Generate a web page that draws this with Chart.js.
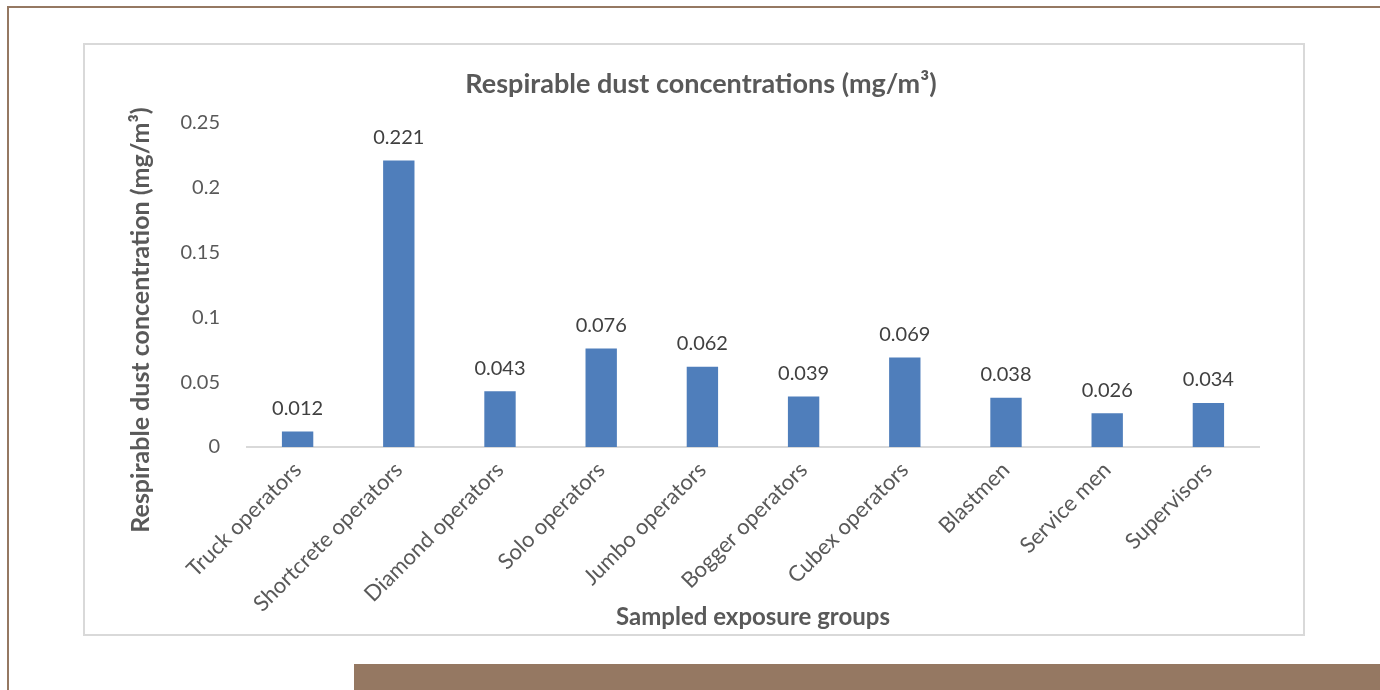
<!DOCTYPE html>
<html>
<head>
<meta charset="utf-8">
<script src="https://cdn.jsdelivr.net/npm/chart.js@4.4.1/dist/chart.umd.min.js"></script>
<style>
  html, body { margin: 0; padding: 0; background: #ffffff; }
  body { width: 1380px; height: 690px; position: relative; overflow: hidden; }
  .rule-top { position: absolute; left: 7px; top: 6px; right: 0; height: 2px; background: #957862; }
  .rule-left { position: absolute; left: 7px; top: 6px; bottom: 0; width: 2px; background: #957862; }
  .frame { position: absolute; left: 83px; top: 43px; width: 1222px; height: 593px;
           box-sizing: border-box; border: 2px solid #d9d9d9; background: #ffffff; }
  .band { position: absolute; left: 354px; top: 664px; right: 0; bottom: 0; background: #957862; }
  #wrap { position: absolute; left: 0; top: 0; width: 1380px; height: 690px; }
</style>
</head>
<body>
<div class="rule-top"></div>
<div class="rule-left"></div>
<div class="frame"></div>
<div class="band"></div>
<div id="wrap"><canvas id="chart"></canvas></div>
<script>
// Sampled exposure groups and their mean respirable dust concentration (mg/m³)
const groups = [
  'Truck operators', 'Shortcrete operators', 'Diamond operators', 'Solo operators',
  'Jumbo operators', 'Bogger operators', 'Cubex operators', 'Blastmen',
  'Service men', 'Supervisors'
];
const concentrations = [0.012, 0.221, 0.043, 0.076, 0.062, 0.039, 0.069, 0.038, 0.026, 0.034];
const yTickLabels = ['0', '0.05', '0.1', '0.15', '0.2', '0.25'];

const chartTitle = 'Respirable dust concentrations (mg/m³)';
const yAxisTitle = 'Respirable dust concentration (mg/m³)';
const xAxisTitle = 'Sampled exposure groups';

const FONT = 'Lato, "Open Sans", sans-serif';

// Titles and value labels painted on top of the bars
const annotate = {
  id: 'annotate',
  afterDatasetsDraw(chart) {
    const ctx = chart.ctx;
    const area = chart.chartArea;
    ctx.save();
    // value above each bar
    ctx.fillStyle = '#404040';
    ctx.font = '20px ' + FONT;
    ctx.textAlign = 'center';
    ctx.textBaseline = 'middle';
    chart.getDatasetMeta(0).data.forEach((bar, i) => {
      ctx.fillText(concentrations[i].toFixed(3), bar.x, bar.y - 23);
    });
    // chart title
    ctx.fillStyle = '#595959';
    ctx.font = 'bold 27px ' + FONT;
    ctx.fillText(chartTitle, 701, 84);
    // x axis title
    ctx.font = 'bold 24px ' + FONT;
    ctx.fillText(xAxisTitle, (area.left + area.right) / 2, 617);
    // y axis title
    ctx.font = 'bold 25px ' + FONT;
    ctx.translate(141, 320);
    ctx.rotate(-Math.PI / 2);
    ctx.fillText(yAxisTitle, 0, 0);
    ctx.restore();
  }
};

new Chart(document.getElementById('chart'), {
  type: 'bar',
  data: {
    labels: groups,
    datasets: [{
      label: 'Respirable dust concentration',
      data: concentrations,
      backgroundColor: '#4f7ebb',
      borderWidth: 0,
      categoryPercentage: 1,
      barPercentage: 0.31
    }]
  },
  options: {
    responsive: true,
    maintainAspectRatio: false,
    animation: false,
    layout: { padding: { left: 160, right: 121, top: 123, bottom: 0 } },
    plugins: {
      legend: { display: false },
      title: { display: false },
      tooltip: { enabled: false }
    },
    scales: {
      x: {
        grid: { display: false },
        border: { display: true, color: '#d9d9d9', width: 2 },
        ticks: {
          color: '#595959',
          font: { family: FONT, size: 22 },
          autoSkip: false,
          maxRotation: 45,
          minRotation: 45,
          padding: 2
        },
        afterFit(scale) { scale.height = 243; }
      },
      y: {
        min: 0,
        max: 0.25,
        grid: { display: false },
        border: { display: false },
        ticks: {
          stepSize: 0.05,
          color: '#595959',
          font: { family: FONT, size: 20 },
          padding: 19,
          callback: (value, index) => yTickLabels[index]
        },
        afterFit(scale) { scale.width = 87; }
      }
    }
  },
  plugins: [annotate]
});
</script>
</body>
</html>
